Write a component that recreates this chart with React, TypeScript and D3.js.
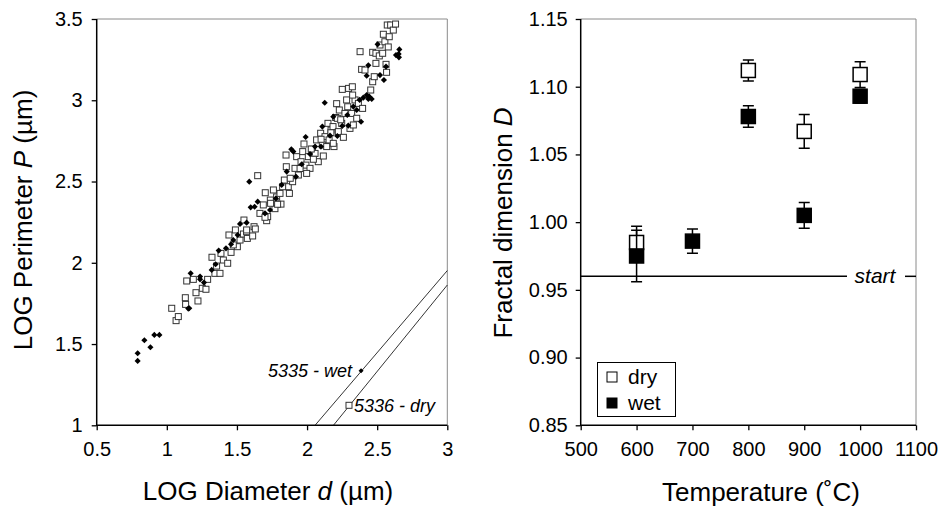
import React, { useRef, useEffect } from "react";
import * as d3 from "d3";

// --- left panel: LOG perimeter vs LOG diameter ---
const dryPoints: [number, number][] = [
  [1.035, 1.72], [1.066, 1.644], [1.082, 1.669], [1.132, 1.785], [1.134, 1.744],
  [1.142, 1.888], [1.189, 1.898], [1.208, 1.816], [1.222, 1.765], [1.253, 1.843],
  [1.279, 1.837], [1.291, 1.898], [1.322, 2.034], [1.343, 1.935], [1.355, 1.98],
  [1.379, 1.935], [1.403, 2.017], [1.434, 1.997], [1.443, 2.171], [1.458, 2.064],
  [1.489, 2.202], [1.503, 2.099], [1.522, 2.14], [1.546, 2.177], [1.55, 2.263],
  [1.569, 2.191], [1.574, 2.15], [1.612, 2.165], [1.622, 2.222], [1.631, 2.208],
  [1.648, 2.536], [1.664, 2.304], [1.688, 2.356], [1.702, 2.431], [1.712, 2.259],
  [1.719, 2.284], [1.738, 2.386], [1.76, 2.448], [1.771, 2.333], [1.783, 2.405],
  [1.807, 2.427], [1.814, 2.361], [1.838, 2.509], [1.85, 2.663], [1.852, 2.591],
  [1.866, 2.468], [1.897, 2.499], [1.914, 2.581], [1.926, 2.653], [1.938, 2.54],
  [1.957, 2.622], [1.969, 2.684], [1.978, 2.731], [1.992, 2.601], [2.009, 2.653],
  [2.021, 2.581], [2.038, 2.698], [2.057, 2.673], [2.068, 2.756], [2.08, 2.622],
  [2.097, 2.797], [2.109, 2.725], [2.128, 2.776], [2.14, 2.715], [2.149, 2.858],
  [2.157, 2.756], [2.171, 2.817], [2.185, 2.838], [2.192, 2.715], [2.204, 2.894],
  [2.211, 2.979], [2.223, 2.807], [2.23, 2.94], [2.247, 2.858], [2.251, 3.067],
  [2.259, 2.772], [2.27, 2.919], [2.282, 3.002], [2.296, 3.073], [2.306, 2.827],
  [2.318, 2.919], [2.323, 3.083], [2.33, 2.848], [2.342, 3.002], [2.354, 2.889],
  [2.366, 2.981], [2.378, 3.299], [2.389, 3.19], [2.396, 2.95], [2.413, 3.186],
  [2.454, 3.063], [2.468, 3.295], [2.468, 3.114], [2.479, 3.145], [2.491, 3.227],
  [2.491, 3.289], [2.515, 3.273], [2.52, 3.34], [2.539, 3.289], [2.555, 3.36],
  [2.563, 3.221], [2.567, 3.172], [2.544, 3.406], [2.572, 3.463], [2.596, 3.463],
  [2.615, 3.432], [2.631, 3.469], [2.579, 3.328], [2.586, 3.391], [2.325, 3.032],
  [2.216, 2.889], [2.187, 2.735], [2.116, 2.657], [2.045, 2.637], [1.997, 2.55],
  [1.874, 2.427], [1.826, 2.468], [1.74, 2.366], [1.569, 2.202], [1.474, 2.11],
  [1.386, 2.058], [1.7, 2.28], [1.79, 2.36], [1.88, 2.52], [1.95, 2.58],
  [2.03, 2.7], [2.1, 2.76], [2.17, 2.8], [2.24, 2.88], [2.29, 2.96],
];

const wetPoints: [number, number][] = [
  [0.792, 1.396], [0.792, 1.443], [0.84, 1.523], [0.883, 1.48], [0.911, 1.556],
  [0.947, 1.556], [1.153, 1.718], [1.17, 1.935], [1.237, 1.915], [1.265, 1.878],
  [1.32, 1.956], [1.348, 1.991], [1.37, 2.075], [1.422, 2.089], [1.458, 2.114],
  [1.505, 2.171], [1.522, 2.239], [1.588, 2.499], [1.598, 2.341], [1.626, 2.345],
  [1.648, 2.376], [1.7, 2.304], [1.778, 2.396], [1.819, 2.479], [1.888, 2.698],
  [1.902, 2.684], [1.99, 2.774], [2.057, 2.715], [2.109, 2.838], [2.126, 2.985],
  [2.216, 2.78], [2.251, 2.842], [2.294, 2.844], [2.33, 2.961], [2.375, 3.002],
  [2.385, 2.868], [2.401, 3.016], [2.425, 3.032], [2.437, 3.008], [2.444, 3.022],
  [2.425, 3.151], [2.437, 3.215], [2.503, 3.344], [2.52, 3.155], [2.548, 3.125],
  [2.634, 3.278], [2.653, 3.285], [2.658, 3.313], [2.655, 3.264], [2.563, 3.207],
  [1.921, 2.53], [1.962, 2.606], [2.021, 2.669], [2.164, 2.782], [2.187, 2.899],
  [2.287, 2.909], [1.736, 2.325], [2.354, 2.94], [2.461, 3.008], [1.474, 2.14],
  [1.569, 2.247], [1.855, 2.561], [2.099, 2.715], [1.237, 1.898], [1.16, 1.72],
];

const refLineLabels = ["5335 - wet", "5336 - dry"];
const refLineStarts: [number, number][] = [[2.057, 1], [2.188, 1]];
const refLineEnds: [number, number][] = [[3, 1.952], [3, 1.863]];
const refMarkers: [number, number][] = [[2.385, 1.336], [2.299, 1.123]];

const leftXTicks = [0.5, 1, 1.5, 2, 2.5, 3];
const leftYTicks = [1, 1.5, 2, 2.5, 3, 3.5];

// --- right panel: fractal dimension vs temperature ---
const temps = [600, 700, 800, 900, 1000];
const dryD = [0.985, null, 1.112, 1.067, 1.109];
const dryErr = [0.012, null, 0.0077, 0.0125, 0.0095];
const wetD = [0.975, 0.986, 1.078, 1.005, 1.093];
const wetErr = [0.019, 0.009, 0.008, 0.0095, 0.005];
const startD = 0.96;

const rightXTicks = [500, 600, 700, 800, 900, 1000, 1100];
const rightYTicks = [0.85, 0.9, 0.95, 1.0, 1.05, 1.1, 1.15];

const FONT = "'Liberation Sans', Arial, Helvetica, sans-serif";

const App = () => {
  const svgRef = useRef<SVGSVGElement>(null);

  useEffect(() => {
    const width = 938;
    const height = 510;
    const svg = d3.select(svgRef.current).attr("width", width).attr("height", height);
    svg.selectAll("*").remove();
    svg.append("rect").attr("width", width).attr("height", height).attr("fill", "#fff");

    const top = 19;
    const bottom = 425.3;

    const styleAxis = (g: any) => {
      g.select(".domain").remove();
      g.selectAll(".tick line").attr("stroke", "#000").attr("stroke-width", 1.3);
      g.selectAll(".tick text").attr("fill", "#000").style("font-family", FONT).style("font-size", "20px");
    };

    const frame = (x0: number, x1: number) => {
      svg.append("path")
        .attr("d", `M${x0},${top}H${x1}V${bottom}`)
        .attr("fill", "none").attr("stroke", "#8a8a8a").attr("stroke-width", 1);
      svg.append("path")
        .attr("d", `M${x0},${top}V${bottom}H${x1}`)
        .attr("fill", "none").attr("stroke", "#000").attr("stroke-width", 1.5);
    };

    // ---------- left panel ----------
    const lx = d3.scaleLinear().domain([0.5, 3]).range([96.7, 447.3]);
    const ly = d3.scaleLinear().domain([1, 3.5]).range([bottom, top]);

    frame(96.7, 447.3);

    svg.append("g").attr("transform", `translate(0,${bottom})`)
      .call(d3.axisBottom(lx).tickValues(leftXTicks).tickSize(5).tickPadding(12).tickFormat((d: any) => String(d)))
      .call(styleAxis);
    svg.append("g").attr("transform", `translate(96.7,0)`)
      .call(d3.axisLeft(ly).tickValues(leftYTicks).tickSize(5).tickPadding(9).tickFormat((d: any) => String(d)))
      .call(styleAxis);

    const lp = svg.append("g");
    lp.selectAll("rect.dry").data(dryPoints).join("rect")
      .attr("x", (d) => lx(d[0]) - 3).attr("y", (d) => ly(d[1]) - 3)
      .attr("width", 6).attr("height", 6)
      .attr("fill", "#fff").attr("stroke", "#333").attr("stroke-width", 1);
    lp.selectAll("path.wet").data(wetPoints).join("path")
      .attr("transform", (d) => `translate(${lx(d[0])},${ly(d[1])})`)
      .attr("d", d3.symbol(d3.symbolDiamond2, 24)() as string)
      .attr("fill", "#000");

    // reference slope lines
    refLineStarts.forEach((s, i) => {
      const e = refLineEnds[i];
      svg.append("line")
        .attr("x1", lx(s[0])).attr("y1", ly(s[1]))
        .attr("x2", lx(e[0])).attr("y2", ly(e[1]))
        .attr("stroke", "#000").attr("stroke-width", 0.8);
    });
    svg.append("path")
      .attr("transform", `translate(${lx(refMarkers[0][0])},${ly(refMarkers[0][1])})`)
      .attr("d", d3.symbol(d3.symbolDiamond2, 16)() as string)
      .attr("fill", "#000");
    svg.append("rect")
      .attr("x", lx(refMarkers[1][0]) - 3).attr("y", ly(refMarkers[1][1]) - 3)
      .attr("width", 6).attr("height", 6)
      .attr("fill", "#fff").attr("stroke", "#333").attr("stroke-width", 1);
    svg.append("text")
      .attr("x", lx(refMarkers[0][0]) - 9).attr("y", ly(refMarkers[0][1]) + 6)
      .attr("text-anchor", "end").style("font-family", FONT).style("font-size", "18px")
      .style("font-style", "italic").text(refLineLabels[0]);
    svg.append("text")
      .attr("x", lx(refMarkers[1][0]) + 5).attr("y", ly(refMarkers[1][1]) + 7)
      .style("font-family", FONT).style("font-size", "18px")
      .style("font-style", "italic").text(refLineLabels[1]);

    // left titles
    const xt = svg.append("text").attr("x", 268).attr("y", 500).attr("text-anchor", "middle")
      .style("font-family", FONT).style("font-size", "26px");
    xt.append("tspan").text("LOG Diameter ");
    xt.append("tspan").style("font-style", "italic").text("d");
    xt.append("tspan").text(" (\u00b5m)");

    const yt = svg.append("text").attr("transform", "translate(32,220) rotate(-90)").attr("text-anchor", "middle")
      .style("font-family", FONT).style("font-size", "26px");
    yt.append("tspan").text("LOG Perimeter ");
    yt.append("tspan").style("font-style", "italic").text("P");
    yt.append("tspan").text(" (\u00b5m)");

    // ---------- right panel ----------
    const rx = d3.scaleLinear().domain([500, 1100]).range([580.7, 916]);
    const ry = d3.scaleLinear().domain([0.85, 1.15]).range([bottom, top]);

    frame(580.7, 916);

    svg.append("g").attr("transform", `translate(0,${bottom})`)
      .call(d3.axisBottom(rx).tickValues(rightXTicks).tickSize(5).tickPadding(12).tickFormat((d: any) => String(d)))
      .call(styleAxis);
    svg.append("g").attr("transform", `translate(580.7,0)`)
      .call(d3.axisLeft(ry).tickValues(rightYTicks).tickSize(5).tickPadding(8).tickFormat((d: any) => d3.format(".2f")(d)))
      .call(styleAxis);

    // start line
    svg.append("line")
      .attr("x1", rx(500)).attr("x2", 847)
      .attr("y1", ry(startD)).attr("y2", ry(startD))
      .attr("stroke", "#000").attr("stroke-width", 1.5);
    svg.append("line")
      .attr("x1", 905).attr("x2", rx(1100))
      .attr("y1", ry(startD)).attr("y2", ry(startD))
      .attr("stroke", "#000").attr("stroke-width", 1.5);
    svg.append("text")
      .attr("x", 875).attr("y", ry(startD) + 7).attr("text-anchor", "middle")
      .style("font-family", FONT).style("font-size", "21px").style("font-style", "italic")
      .text("start");

    const drawSeries = (vals: (number | null)[], errs: (number | null)[], fill: string) => {
      const g = svg.append("g");
      temps.forEach((t, i) => {
        const v = vals[i];
        const e = errs[i];
        if (v == null || e == null) return;
        const cx = rx(t);
        const y0 = ry(v - e);
        const y1 = ry(v + e);
        g.append("path")
          .attr("d", `M${cx},${y0}V${y1}M${cx - 5.5},${y0}H${cx + 5.5}M${cx - 5.5},${y1}H${cx + 5.5}`)
          .attr("stroke", "#000").attr("stroke-width", 1.5).attr("fill", "none");
        g.append("rect")
          .attr("x", cx - 7).attr("y", ry(v) - 7).attr("width", 14).attr("height", 14)
          .attr("fill", fill).attr("stroke", "#000").attr("stroke-width", 1.5);
      });
    };
    drawSeries(dryD, dryErr, "#fff");
    drawSeries(wetD, wetErr, "#000");

    // legend
    svg.append("rect").attr("x", 597.5).attr("y", 362.5).attr("width", 78).attr("height", 54)
      .attr("fill", "#fff").attr("stroke", "#000").attr("stroke-width", 1);
    [["dry", "#fff", 377], ["wet", "#000", 403]].forEach(([label, fill, cy]) => {
      svg.append("rect").attr("x", 607).attr("y", (cy as number) - 5).attr("width", 10).attr("height", 10)
        .attr("fill", fill as string).attr("stroke", "#000").attr("stroke-width", 1);
      svg.append("text").attr("x", 628).attr("y", (cy as number) + 7)
        .style("font-family", FONT).style("font-size", "21px").text(label as string);
    });

    // right titles
    svg.append("text").attr("x", 761).attr("y", 501).attr("text-anchor", "middle")
      .style("font-family", FONT).style("font-size", "26px")
      .text("Temperature (\u02daC)");

    const ryt = svg.append("text").attr("transform", "translate(512,223) rotate(-90)").attr("text-anchor", "middle")
      .style("font-family", FONT).style("font-size", "26px");
    ryt.append("tspan").text("Fractal dimension ");
    ryt.append("tspan").style("font-style", "italic").text("D");
  }, []);

  return (
    <div style={{ position: "absolute", left: 0, top: 0 }}>
      <svg ref={svgRef} style={{ display: "block" }}></svg>
    </div>
  );
};

export default App;
